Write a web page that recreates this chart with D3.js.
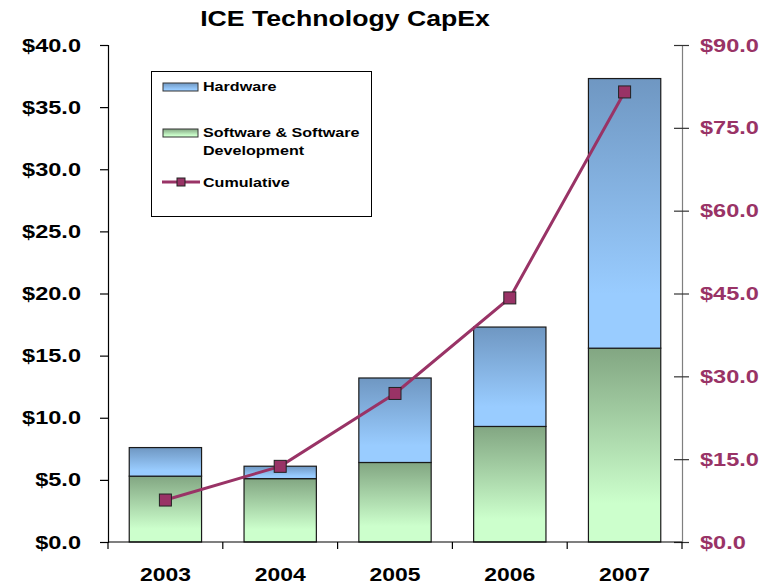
<!DOCTYPE html>
<html>
<head>
<meta charset="utf-8">
<script src="https://cdn.jsdelivr.net/npm/d3@7"></script>
<style>
  html, body { margin: 0; padding: 0; background: #fff; }
  svg { display: block; }
  text { font-family: "Liberation Sans", Arial, sans-serif; font-weight: bold; }
</style>
</head>
<body>
<svg id="chart" width="769" height="585"></svg>
<script>
const years = ["2003", "2004", "2005", "2006", "2007"];
const software = [5.3, 5.1, 6.4, 9.3, 15.6];
const hardware = [2.3, 1.0, 6.8, 8.0, 21.7];
const cumulative = [7.6, 13.7, 26.9, 44.2, 81.5];
const leftTicks = [0, 5, 10, 15, 20, 25, 30, 35, 40];
const rightTicks = [0, 15, 30, 45, 60, 75, 90];
const seriesNames = ["Hardware", "Software & Software Development", "Cumulative"];

const svg = d3.select("#chart");
const m = { left: 108, right: 682, top: 45, bottom: 542 };
const plum = "#993366";
const K = 1.24; // horizontal text stretch

function stretch(sel) {
  sel.each(function () {
    const t = d3.select(this);
    const xv = +t.attr("x") || 0;
    t.attr("x", xv / K).attr("transform", `scale(${K},1)`);
    t.selectAll("tspan").each(function () {
      const s = d3.select(this);
      const sx = +s.attr("x") || 0;
      s.attr("x", sx / K);
    });
  });
}

const x = d3.scaleBand().domain(years).range([m.left, m.right]).paddingInner(0.37).paddingOuter(0.185);
const xb = d3.scaleBand().domain(years).range([m.left, m.right]);
const yL = d3.scaleLinear().domain([0, 40]).range([m.bottom, m.top]);
const yR = d3.scaleLinear().domain([0, 90]).range([m.bottom, m.top]);

const defs = svg.append("defs");
function grad(id, dark, light) {
  const g = defs.append("linearGradient").attr("id", id).attr("x1", 0).attr("y1", 0).attr("x2", 0).attr("y2", 1);
  g.append("stop").attr("offset", 0).attr("stop-color", dark);
  g.append("stop").attr("offset", 0.8).attr("stop-color", light);
  g.append("stop").attr("offset", 1).attr("stop-color", light);
}
grad("gHw", "#6f97c2", "#99ccff");
grad("gSw", "#82a682", "#ccffcc");

// Title
svg.append("text").attr("x", 345).attr("y", 26).attr("text-anchor", "middle")
  .attr("font-size", 21.5).attr("fill", "#000").text("ICE Technology CapEx").call(stretch);

// Bars
const data = years.map((yr, i) => ({ yr, sw: software[i], hw: hardware[i] }));
const bars = svg.append("g");
bars.selectAll("rect.sw").data(data).join("rect").attr("class", "sw")
  .attr("x", d => x(d.yr)).attr("width", x.bandwidth())
  .attr("y", d => yL(d.sw)).attr("height", d => yL(0) - yL(d.sw))
  .attr("fill", "url(#gSw)").attr("stroke", "#1a1a1a").attr("stroke-width", 1.2);
bars.selectAll("rect.hw").data(data).join("rect").attr("class", "hw")
  .attr("x", d => x(d.yr)).attr("width", x.bandwidth())
  .attr("y", d => yL(d.sw + d.hw)).attr("height", d => yL(d.sw) - yL(d.sw + d.hw))
  .attr("fill", "url(#gHw)").attr("stroke", "#1a1a1a").attr("stroke-width", 1.2);

const fmt = d => "$" + d3.format(".1f")(d);

// Left axis
const axL = svg.append("g").attr("transform", `translate(${m.left},0)`)
  .call(d3.axisLeft(yL).tickValues(leftTicks).tickSize(8).tickPadding(19).tickFormat(fmt));
axL.select(".domain").attr("stroke", "#000").attr("stroke-width", 1.2);
axL.selectAll(".tick line").attr("stroke", "#000").attr("stroke-width", 1.2);
axL.selectAll(".tick text").attr("font-size", 19).attr("fill", "#000")
  .attr("font-family", "Liberation Sans, Arial, sans-serif").attr("font-weight", "bold").call(stretch);

// Right axis
const axR = svg.append("g").attr("transform", `translate(${m.right},0)`)
  .call(d3.axisRight(yR).tickValues(rightTicks).tickSize(7).tickPadding(11).tickFormat(fmt));
axR.select(".domain").attr("stroke", "#7f7f7f").attr("stroke-width", 1.2);
axR.selectAll(".tick line").attr("stroke", "#333").attr("stroke-width", 1.2).attr("x1", -8);
axR.selectAll(".tick text").attr("font-size", 19).attr("fill", plum)
  .attr("font-family", "Liberation Sans, Arial, sans-serif").attr("font-weight", "bold").call(stretch);

// Bottom axis
const axB = svg.append("g").attr("transform", `translate(0,${m.bottom})`)
  .call(d3.axisBottom(x).tickSize(0).tickPadding(26));
axB.select(".domain").remove();
svg.append("line").attr("x1", m.left).attr("x2", m.right).attr("y1", m.bottom).attr("y2", m.bottom)
  .attr("stroke", "#000").attr("stroke-width", 1.2);
const bounds = years.map(yr => xb(yr)).concat([m.right]);
svg.append("g").selectAll("line").data(bounds).join("line")
  .attr("x1", d => d).attr("x2", d => d).attr("y1", m.bottom).attr("y2", m.bottom + 7)
  .attr("stroke", "#000").attr("stroke-width", 1.2);
axB.selectAll(".tick text").attr("font-size", 18.5).attr("fill", "#000")
  .attr("font-family", "Liberation Sans, Arial, sans-serif").attr("font-weight", "bold").call(stretch);

// Cumulative line
const cx = yr => x(yr) + x.bandwidth() / 2;
const line = d3.line().x((d, i) => cx(years[i])).y(d => yR(d));
svg.append("path").datum(cumulative).attr("d", line).attr("fill", "none")
  .attr("stroke", plum).attr("stroke-width", 3);
svg.append("g").selectAll("rect").data(cumulative).join("rect")
  .attr("x", (d, i) => cx(years[i]) - 6).attr("y", d => yR(d) - 6)
  .attr("width", 12).attr("height", 12).attr("fill", plum).attr("stroke", "#222").attr("stroke-width", 1);

// Legend
const lg = svg.append("g");
lg.append("rect").attr("x", 151.5).attr("y", 71.5).attr("width", 220).attr("height", 145)
  .attr("fill", "#fff").attr("stroke", "#000").attr("stroke-width", 1);
lg.append("rect").attr("x", 163).attr("y", 83).attr("width", 35).attr("height", 8)
  .attr("fill", "url(#gHw)").attr("stroke", "#333");
lg.append("rect").attr("x", 163).attr("y", 129).attr("width", 35).attr("height", 8)
  .attr("fill", "url(#gSw)").attr("stroke", "#333");
lg.append("line").attr("x1", 162).attr("x2", 200).attr("y1", 182).attr("y2", 182)
  .attr("stroke", plum).attr("stroke-width", 3);
lg.append("rect").attr("x", 177).attr("y", 178).attr("width", 8).attr("height", 8)
  .attr("fill", plum).attr("stroke", "#222");
lg.append("text").attr("x", 203).attr("y", 91).attr("font-size", 13).text(seriesNames[0]).call(stretch);
const t2 = lg.append("text").attr("x", 203).attr("y", 137).attr("font-size", 13);
t2.append("tspan").attr("x", 203).text("Software & Software");
t2.append("tspan").attr("x", 203).attr("dy", 18).text("Development");
t2.call(stretch);
lg.append("text").attr("x", 203).attr("y", 187).attr("font-size", 13).text(seriesNames[2]).call(stretch);
</script>
</body>
</html>
